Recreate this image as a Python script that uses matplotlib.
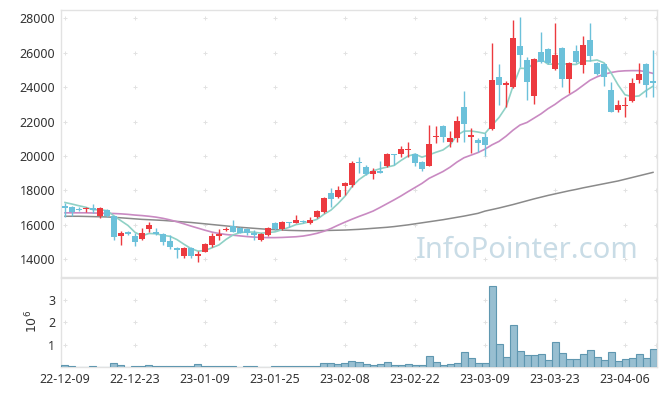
import matplotlib
matplotlib.use("Agg")
import matplotlib.pyplot as plt
import numpy as np
import pandas as pd

plt.rcParams['font.family'] = ['Noto Sans', 'DejaVu Sans']

tick_labels = ['22-12-09', '22-12-23', '23-01-09', '23-01-25', '23-02-08',
               '23-02-22', '23-03-09', '23-03-23', '23-04-06']

opens = [17113, 17038, 16900, 16900, 16980, 16516, 16840, 16516, 15350, 15570,
         15330, 15160, 15760, 15570, 15460, 15080, 14640, 14210, 14640, 14190,
         14440, 14830, 15350, 15680, 15920, 15800, 15780, 15550, 15120, 15410,
         16090, 15740, 16170, 16130, 16210, 16090, 16440, 16750, 17870, 17640,
         18280, 18320, 19630, 19340, 18950, 19130, 19420, 20120, 20120, 20350,
         20120, 19670, 19440, 21100, 21740, 20830, 21060, 22870, 21080, 20930,
         21080, 21570, 24590, 24140, 23990, 26390, 25580, 23500, 26020, 26220,
         25050, 26290, 24470, 26100, 25290, 26740, 25390, 25350, 23830, 22670,
         22880, 23210, 24420, 25350, 24360]
highs = [17254, 17080, 17010, 17010, 17213, 17050, 16900, 16516, 15660, 15650,
         15500, 15830, 16150, 15800, 15530, 15420, 14700, 14720, 14720, 14500,
         14960, 15500, 15780, 15850, 16280, 15870, 15830, 15700, 15540, 15850,
         16150, 16230, 16170, 16550, 16280, 16430, 16880, 17630, 18120, 18260,
         18510, 19710, 19920, 19480, 19320, 19730, 20190, 20120, 20600, 20800,
         20160, 19730, 21800, 21740, 21780, 21470, 22310, 23780, 21600, 21030,
         21350, 26550, 25350, 24360, 27900, 28060, 25770, 25670, 27190, 26250,
         27710, 26350, 25480, 26450, 26970, 27710, 25480, 25390, 24320, 23250,
         23450, 24510, 25390, 25390, 26160]
lows = [16475, 16516, 16820, 16760, 16670, 16400, 16460, 15120, 14830, 15400,
        14800, 15120, 15600, 15400, 14850, 14620, 14060, 14100, 14100, 13860,
        14400, 14700, 15120, 15630, 15560, 15500, 15440, 15120, 15060, 15370,
        15700, 15700, 15900, 16090, 16090, 16030, 16380, 16700, 17050, 17540,
        17740, 18220, 18990, 18890, 18650, 18990, 19380, 19480, 19960, 19960,
        19420, 19150, 19440, 20740, 20830, 20540, 20830, 20830, 20160, 20250,
        19990, 21510, 22960, 22860, 23930, 25190, 23250, 23020, 25390, 25340,
        24990, 23990, 23640, 25390, 24800, 25540, 24700, 24080, 22540, 22540,
        22280, 23150, 24220, 23450, 23450]
closes = [16980, 16765, 16850, 16960, 16840, 16980, 16516, 15313, 15545, 15470,
          14990, 15510, 15990, 15450, 15020, 14700, 14560, 14640, 14190, 14300,
          14870, 15350, 15470, 15780, 15600, 15550, 15550, 15410, 15470, 15800,
          15740, 16170, 16090, 16280, 16150, 16280, 16810, 17560, 17500, 18030,
          18430, 19610, 19580, 18950, 19130, 19030, 20100, 20040, 20410, 20410,
          19580, 19230, 20700, 21170, 21080, 21040, 22050, 21880, 21220, 20770,
          20640, 24420, 24130, 24240, 26840, 25870, 24320, 25620, 25480, 25390,
          25870, 24470, 25420, 25440, 26450, 25830, 24760, 24570, 22570, 22960,
          22930, 24220, 24770, 24130, 24220]
volume_m = [0.09, 0.06, 0.0, 0.0, 0.06, 0.0, 0.0, 0.19, 0.10, 0.0,
            0.06, 0.06, 0.10, 0.06, 0.06, 0.06, 0.06, 0.06, 0.06, 0.15,
            0.06, 0.06, 0.06, 0.06, 0.06, 0.0, 0.06, 0.06, 0.0, 0.0,
            0.06, 0.06, 0.06, 0.06, 0.06, 0.06, 0.06, 0.19, 0.19, 0.15,
            0.19, 0.28, 0.24, 0.15, 0.10, 0.15, 0.24, 0.10, 0.10, 0.15,
            0.10, 0.10, 0.51, 0.24, 0.09, 0.15, 0.19, 0.69, 0.42, 0.19,
            0.19, 3.64, 1.04, 0.46, 1.88, 0.73, 0.55, 0.55, 0.60, 0.33,
            1.13, 0.64, 0.37, 0.37, 0.60, 0.78, 0.46, 0.33, 0.69, 0.28,
            0.37, 0.42, 0.60, 0.42, 0.82]
ma5_head = [17300, 17210, 17110, 17020]
ma20 = [16700, 16700, 16700, 16700, 16690, 16680, 16670, 16660,
        16640, 16610, 16570, 16540, 16500, 16450, 16380, 16290,
        16180, 16060, 15930, 15810, 15690, 15580, 15500, 15440,
        15400, 15360, 15320, 15290, 15270, 15260, 15260, 15270,
        15290, 15310, 15350, 15420, 15510, 15630, 15790, 15980,
        16160, 16330, 16490, 16640, 16800, 17010, 17230, 17450,
        17680, 17930, 18170, 18410, 18700, 18900, 19100, 19350,
        19650, 19900, 20050, 20200, 20400, 20650, 20850, 21150,
        21500, 21800, 21950, 22200, 22450, 22750, 23000, 23300,
        23550, 23800, 24100, 24400, 24600, 24750, 24850, 24920,
        24950, 24960, 24960, 24900, 24800]
ma120 = [16500, 16500, 16500, 16490, 16480, 16470, 16460, 16440,
         16410, 16380, 16350, 16320, 16300, 16280, 16260, 16230,
         16200, 16170, 16140, 16100, 16060, 16020, 15980, 15940,
         15900, 15860, 15830, 15800, 15770, 15740, 15720, 15700,
         15680, 15670, 15660, 15660, 15660, 15670, 15680, 15690,
         15700, 15720, 15740, 15770, 15800, 15830, 15860, 15900,
         15950, 16000, 16060, 16120, 16180, 16240, 16300, 16370,
         16440, 16510, 16590, 16670, 16800, 16890, 16980, 17080,
         17180, 17290, 17400, 17510, 17610, 17710, 17800, 17890,
         17980, 18060, 18150, 18230, 18310, 18390, 18470, 18550,
         18650, 18750, 18850, 18950, 19050]

o = np.array(opens, float); h = np.array(highs, float)
l = np.array(lows, float); c = np.array(closes, float)
x = np.arange(len(c))
ma5 = pd.Series(c).rolling(5).mean().to_numpy()
ma5[:4] = ma5_head

RED = '#ec3a3f'
BLUE = '#6cc1da'
up = c >= o
colors = np.where(up, RED, BLUE)

W, H = 665, 396
fig = plt.figure(figsize=(W / 100, H / 100), dpi=100)
ax1 = fig.add_axes([61 / W, (H - 277) / H, 596 / W, 267 / H])
ax2 = fig.add_axes([61 / W, (H - 367) / H, 596 / W, 89 / H], sharex=ax1)

xlim = (-0.57, 84.57)
tick_pos = np.arange(0, 81, 10)
grid_col = '#e2e2e2'

# main panel
ax1.text(0.782, 0.10, 'InfoPointer.com', transform=ax1.transAxes,
         fontsize=21, color='#c9dce6', ha='center', va='center', zorder=0)
yt = np.arange(14000, 28001, 2000)
gx, gy = np.meshgrid(np.append(tick_pos, 84.4), yt)
ax1.scatter(gx.ravel(), gy.ravel(), marker='+', s=12, lw=0.7, color=grid_col, zorder=1)

ax1.plot(x, ma120, color='#8a8a8a', lw=1.1, zorder=2)
ax1.plot(x, ma20, color='#c98ac2', lw=1.2, zorder=2)
ax1.plot(x, ma5, color='#8fd1c6', lw=1.2, zorder=2)

ax1.vlines(x, l, h, colors=colors, lw=1.0, zorder=3)
body_bot = np.minimum(o, c)
body_h = np.maximum(np.abs(c - o), 60)
ax1.bar(x, body_h, bottom=body_bot, width=0.72, color=colors, lw=0, zorder=4)

ax1.set_xlim(*xlim)
ax1.set_ylim(12972, 28482)
ax1.set_yticks(yt)
ax1.set_yticklabels([str(v) for v in yt])
ax1.tick_params(axis='y', length=0, pad=4, labelsize=9, labelcolor='#333333')
ax1.tick_params(axis='x', length=0, labelbottom=False)

# volume panel
vt = [1, 2, 3]
gx2, gy2 = np.meshgrid(np.append(tick_pos, 84.4), vt)
ax2.scatter(gx2.ravel(), gy2.ravel(), marker='+', s=12, lw=0.7, color=grid_col, zorder=1)
ax2.bar(x, volume_m, width=1.0, color='#98bfd1', edgecolor='#5f97b0', lw=0.8, zorder=3)
ax2.set_ylim(0, 3.99)
ax2.set_yticks(vt)
ax2.set_yticklabels([str(v) for v in vt])
ax2.set_xticks(tick_pos)
ax2.set_xticklabels(tick_labels)
ax2.tick_params(axis='both', length=0, labelsize=9, labelcolor='#333333')
ax2.tick_params(axis='y', pad=4)
ax2.tick_params(axis='x', pad=4)
fig.text(32 / W, 1 - 321 / H, r'$10^6$', rotation=90, ha='center', va='center',
         fontsize=9, color='#333333')

for ax in (ax1, ax2):
    for s in ax.spines.values():
        s.set_color('#e2e2e2')
        s.set_linewidth(1.0)

fig.savefig('out.png', dpi=100, facecolor='white')
